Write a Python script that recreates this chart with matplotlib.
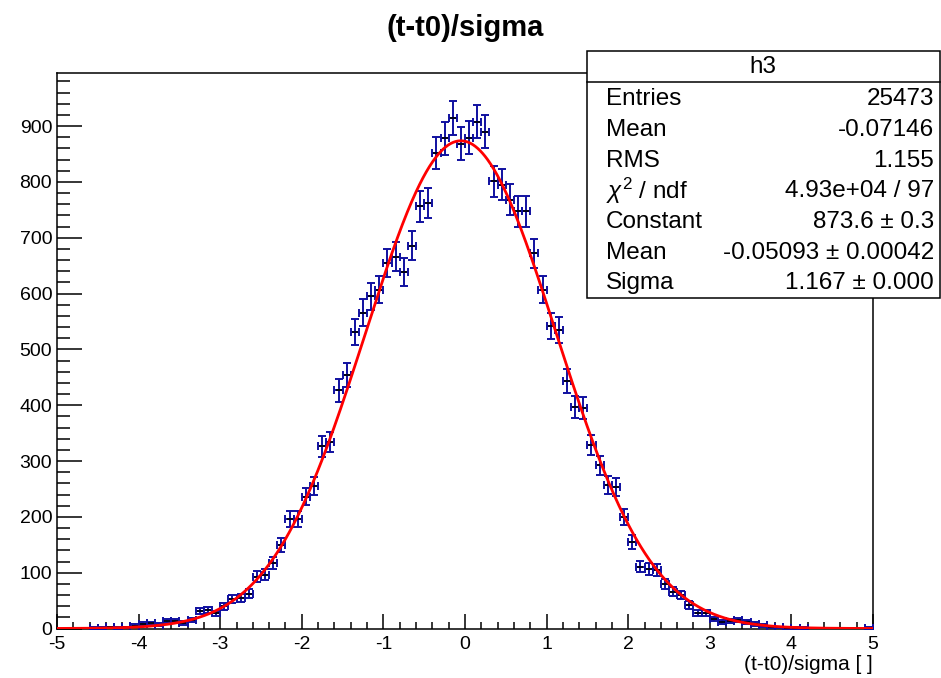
import numpy as np
import matplotlib
matplotlib.use("Agg")
import matplotlib.pyplot as plt
from matplotlib.ticker import MultipleLocator
from matplotlib.patches import Rectangle
from matplotlib.lines import Line2D

plt.rcParams['font.family'] = ['Liberation Sans', 'DejaVu Sans']
plt.rcParams['mathtext.fontset'] = 'custom'
plt.rcParams['mathtext.rm'] = 'Liberation Sans'
plt.rcParams['mathtext.it'] = 'Liberation Sans:italic'
plt.rcParams['axes.unicode_minus'] = False

# ---- data ----
bin_lo, bin_hi, n_bins = -5.0, 5.0, 100
counts = [
    0, 0, 0, 0, 1, 1, 2, 1, 2, 5,
    8, 9, 7, 13, 14, 10, 15, 31, 33, 27,
    40, 53, 55, 62, 93, 96, 118, 150, 196, 196,
    236, 255, 326, 334, 427, 454, 531, 566, 595, 607,
    655, 666, 638, 686, 756, 762, 852, 878, 915, 868,
    879, 908, 890, 801, 795, 768, 747, 747, 672, 607,
    542, 535, 443, 397, 395, 329, 292, 257, 254, 200,
    155, 111, 107, 105, 80, 66, 60, 42, 28, 28,
    17, 12, 14, 15, 12, 8, 6, 2, 2, 1,
    1, 1, 0, 0, 0, 0, 0, 0, 0, 1,
]
fit_constant = 873.6
fit_mean = -0.05093
fit_sigma = 1.167

stats_labels = ["Entries", "Mean", "RMS", r"$\chi^{2}$ / ndf", "Constant", "Mean", "Sigma"]
stats_values = ["25473", "-0.07146", "1.155", "4.93e+04 / 97", "873.6 \u00b1 0.3",
                "-0.05093 \u00b1 0.00042", "1.167 \u00b1 0.000"]
hist_name = "h3"
title = "(t-t0)/sigma"
xlabel = "(t-t0)/sigma [ ]"
x_ticks = [-5, -4, -3, -2, -1, 0, 1, 2, 3, 4, 5]
y_ticks = [0, 100, 200, 300, 400, 500, 600, 700, 800, 900]

# ---- figure ----
W, H = 941, 678
fig = plt.figure(figsize=(W / 100, H / 100), dpi=100)
ax_l, ax_r, ax_t, ax_b = 57, 873, 73, 628.5
ax = fig.add_axes([ax_l / W, 1 - ax_b / H, (ax_r - ax_l) / W, (ax_b - ax_t) / H])

edges = np.linspace(bin_lo, bin_hi, n_bins + 1)
centers = 0.5 * (edges[:-1] + edges[1:])
half_w = 0.5 * (edges[1] - edges[0])
counts = np.array(counts, dtype=float)
mask = counts > 0
blue = '#1010a0'
ax.errorbar(centers[mask], counts[mask], xerr=half_w, yerr=np.sqrt(counts[mask]),
            fmt='none', ecolor=blue, elinewidth=1.4, capsize=2.6, capthick=1.4, zorder=3)
ax.plot(centers[mask], counts[mask], linestyle='none', marker='_', color='black',
        markersize=5, markeredgewidth=1.2, zorder=4)

xf = np.linspace(bin_lo, bin_hi, 1000)
yf = fit_constant * np.exp(-0.5 * ((xf - fit_mean) / fit_sigma) ** 2)
ax.plot(xf, yf, color='#ff0000', linewidth=2.0, zorder=5)

ax.set_xlim(bin_lo, bin_hi)
ax.set_ylim(0, 995)
ax.set_xticks(x_ticks)
ax.set_yticks(y_ticks)
ax.xaxis.set_minor_locator(MultipleLocator(0.2))
ax.yaxis.set_minor_locator(MultipleLocator(20))
ax.tick_params(axis='both', which='both', direction='in', top=False, right=False,
               width=1.1, labelsize=14, colors='black')
ax.tick_params(axis='x', which='major', length=10.8, pad=5.5)
ax.tick_params(axis='x', which='minor', length=5.4)
ax.tick_params(axis='y', which='major', length=18, pad=3.5)
ax.tick_params(axis='y', which='minor', length=9.4)
for s in ax.spines.values():
    s.set_linewidth(1.1)

fig.text(ax_r / W, 1 - 665 / H, xlabel, ha='right', va='center', fontsize=15)
fig.text((ax_l + ax_r) / 2 / W, 1 - 28 / H, title, ha='center', va='center',
         fontsize=21, fontweight='bold')

# ---- stats box ----
bx0, bx1, by0, by1 = 587, 939.5, 51, 298
fig.patches.append(Rectangle((bx0 / W, 1 - by1 / H), (bx1 - bx0) / W, (by1 - by0) / H,
                             transform=fig.transFigure, facecolor='white',
                             edgecolor='black', linewidth=1.1, zorder=10))
fig.lines.append(Line2D([bx0 / W, bx1 / W], [1 - 82 / H, 1 - 82 / H],
                        transform=fig.transFigure, color='black', linewidth=1.1, zorder=11))
fig.text((bx0 + bx1) / 2 / W, 1 - 67 / H, hist_name, ha='center', va='center',
         fontsize=17.5, zorder=12)
row_y = [99, 130, 161, 191, 222, 253, 283]
for lab, val, yy in zip(stats_labels, stats_values, row_y):
    fig.text(606 / W, 1 - yy / H, lab, ha='left', va='center', fontsize=17.5, zorder=12)
    fig.text(934 / W, 1 - yy / H, val, ha='right', va='center', fontsize=17.5, zorder=12)

fig.savefig('out.png', dpi=100, facecolor='white')
